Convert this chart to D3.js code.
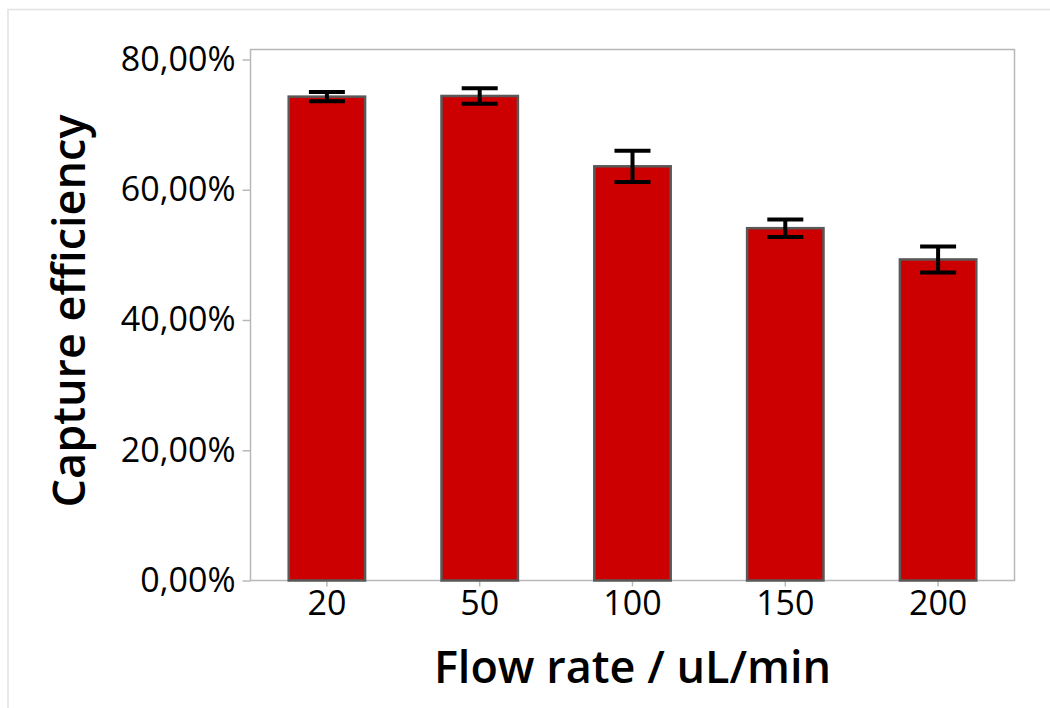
<!DOCTYPE html>
<html>
<head>
<meta charset="utf-8">
<script src="https://cdn.jsdelivr.net/npm/d3@7"></script>
<style>
  html, body { margin: 0; padding: 0; background: #fff; }
  svg { display: block; }
  text { font-family: "Open Sans", "Noto Sans", sans-serif; fill: #000; }
</style>
</head>
<body>
<svg id="chart" width="1050" height="708"></svg>
<script>
// data
const flowRates = ["20", "50", "100", "150", "200"];
const captureMean = [74.3, 74.4, 63.6, 54.1, 49.3];
const captureErr = [0.7, 1.2, 2.4, 1.35, 2.0];
const yTicks = [0, 20, 40, 60, 80];

const svg = d3.select("#chart");
const plot = {left: 250.5, right: 1014.5, top: 49.5, bottom: 580.5};

// outer light frame
svg.append("rect")
  .attr("x", 8).attr("y", 9.5)
  .attr("width", 1100).attr("height", 800)
  .attr("fill", "none")
  .attr("stroke", "#e2e2e2")
  .attr("stroke-width", 1.5);

const x = d3.scaleBand()
  .domain(flowRates)
  .range([plot.left, plot.right])
  .paddingInner(0.5)
  .paddingOuter(0.25);

const y = d3.scaleLinear()
  .domain([0, 80])
  .range([plot.bottom, 59.5]);

const comma = d3.formatLocale({decimal: ",", thousands: ".", grouping: [3], currency: ["", ""]});
const fmt = comma.format(".2f");

// plot frame
svg.append("rect")
  .attr("x", plot.left).attr("y", plot.top)
  .attr("width", plot.right - plot.left)
  .attr("height", plot.bottom - plot.top)
  .attr("fill", "none")
  .attr("stroke", "#b8b8b8")
  .attr("stroke-width", 1.5);

// y axis
const yAxis = svg.append("g")
  .attr("transform", `translate(${plot.left},0)`)
  .call(d3.axisLeft(y).tickValues(yTicks).tickSize(8).tickPadding(7).tickFormat(d => fmt(d) + "%"));
yAxis.select(".domain").remove();
yAxis.selectAll(".tick line").attr("stroke", "#b8b8b8").attr("stroke-width", 1.5);
yAxis.selectAll(".tick text")
  .attr("fill", "#000")
  .style("font-size", "34px")
  .style("font-weight", 500)
  .attr("font-family", null);

// x axis
const xAxis = svg.append("g")
  .attr("transform", `translate(0,${plot.bottom})`)
  .call(d3.axisBottom(x).tickSize(6).tickPadding(4));
xAxis.select(".domain").remove();
xAxis.selectAll(".tick line").attr("stroke", "#b8b8b8").attr("stroke-width", 1.5);
xAxis.selectAll(".tick text")
  .attr("fill", "#000")
  .style("font-size", "34px")
  .style("font-weight", 500)
  .attr("font-family", null);

// bars
const rows = flowRates.map((f, i) => ({f: f, v: captureMean[i], e: captureErr[i]}));

svg.append("g").selectAll("rect")
  .data(rows)
  .join("rect")
  .attr("x", d => x(d.f))
  .attr("y", d => y(d.v))
  .attr("width", x.bandwidth())
  .attr("height", d => y(0) - y(d.v))
  .attr("fill", "#cc0000")
  .attr("stroke", "#595959")
  .attr("stroke-width", 2.5);

// error bars
const capW = 36;
const err = svg.append("g").attr("stroke", "#000").attr("stroke-width", 4);
rows.forEach(d => {
  const cx = x(d.f) + x.bandwidth() / 2;
  err.append("line")
    .attr("x1", cx).attr("x2", cx)
    .attr("y1", y(d.v + d.e)).attr("y2", y(d.v - d.e));
  [d.v + d.e, d.v - d.e].forEach(v => {
    err.append("line")
      .attr("x1", cx - capW / 2).attr("x2", cx + capW / 2)
      .attr("y1", y(v)).attr("y2", y(v));
  });
});

// titles
svg.append("text")
  .attr("transform", `translate(85,311) rotate(-90)`)
  .attr("text-anchor", "middle")
  .style("font-size", "45px")
  .style("font-weight", 600)
  .text("Capture efficiency");

svg.append("text")
  .attr("x", (plot.left + plot.right) / 2)
  .attr("y", 683)
  .attr("text-anchor", "middle")
  .style("font-size", "45px")
  .style("font-weight", 600)
  .text("Flow rate / uL/min");
</script>
</body>
</html>
